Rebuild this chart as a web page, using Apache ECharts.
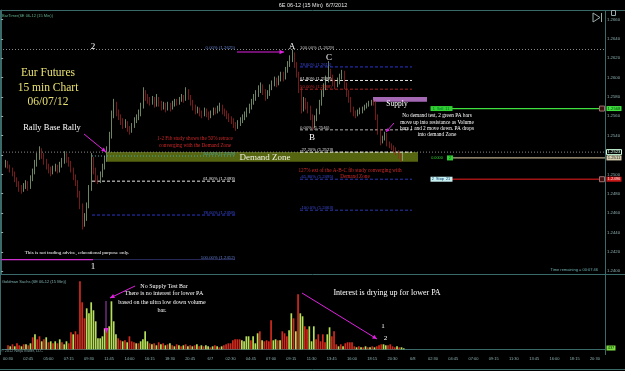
<!DOCTYPE html>
<html><head><meta charset="utf-8">
<script src="https://cdn.jsdelivr.net/npm/echarts@6/dist/echarts.min.js"></script>
<style>html,body{margin:0;padding:0;background:#000}#c{width:625px;height:371px}</style>
</head><body><div id="c"></div>
<script>
// ---------- DATA ----------
const tickLabels = ['00:30','02:45','05:00','07:15','09:30','11:45','14:00','16:15','18:30','20:45','6/7',
  '02:30','04:45','07:00','09:15','11:30','13:45','16:00','18:15','20:30','6/8',
  '02:30','04:45','07:00','09:15','11:30','13:45','16:00','18:15','20:30'];
const priceTicks = [1.2400,1.2420,1.2440,1.2460,1.2480,1.2500,1.2520,1.2540,1.2560,1.2580,1.2600,1.2620,1.2640,1.2660];
// 15-min bars: [open, close, low, high]
const ohlc = [
[1.2510,1.2512,1.2507,1.2515],[1.2512,1.2508,1.2506,1.2514],[1.2508,1.2505,1.2502,1.2510],[1.2505,1.2500,1.2498,1.2507],
[1.2500,1.2495,1.2492,1.2503],[1.2495,1.2490,1.2487,1.2497],[1.2490,1.2486,1.2482,1.2493],[1.2486,1.2484,1.2480,1.2489],
[1.2484,1.2488,1.2482,1.2491],[1.2488,1.2490,1.2485,1.2494],[1.2490,1.2487,1.2483,1.2493],[1.2487,1.2496,1.2485,1.2499],
[1.2496,1.2502,1.2493,1.2506],[1.2502,1.2512,1.2500,1.2515],[1.2512,1.2518,1.2508,1.2522],[1.2518,1.2524,1.2515,1.2529],
[1.2524,1.2520,1.2516,1.2527],[1.2520,1.2514,1.2510,1.2522],[1.2514,1.2508,1.2505,1.2516],[1.2508,1.2505,1.2501,1.2511],
[1.2505,1.2502,1.2498,1.2508],[1.2502,1.2506,1.2500,1.2509],[1.2506,1.2508,1.2503,1.2511],[1.2508,1.2504,1.2501,1.2510],
[1.2504,1.2510,1.2502,1.2513],[1.2510,1.2514,1.2507,1.2517],[1.2514,1.2519,1.2511,1.2524],[1.2519,1.2516,1.2512,1.2522],
[1.2516,1.2512,1.2508,1.2518],[1.2512,1.2505,1.2502,1.2514],[1.2505,1.2498,1.2494,1.2507],[1.2498,1.2492,1.2488,1.2500],
[1.2492,1.2480,1.2476,1.2494],[1.2480,1.2468,1.2464,1.2483],[1.2468,1.2450,1.2443,1.2470],[1.2450,1.2456,1.2446,1.2460],
[1.2456,1.2468,1.2452,1.2471],[1.2468,1.2486,1.2465,1.2489],[1.2486,1.2514,1.2483,1.2522],[1.2514,1.2504,1.2500,1.2518],
[1.2504,1.2496,1.2492,1.2507],[1.2496,1.2494,1.2490,1.2499],[1.2494,1.2500,1.2491,1.2503],[1.2500,1.2508,1.2497,1.2511],
[1.2508,1.2516,1.2505,1.2519],[1.2516,1.2526,1.2513,1.2529],[1.2526,1.2540,1.2523,1.2544],[1.2540,1.2562,1.2537,1.2566],
[1.2562,1.2572,1.2558,1.2578],[1.2572,1.2564,1.2560,1.2575],[1.2564,1.2560,1.2556,1.2567],[1.2560,1.2555,1.2551,1.2562],
[1.2555,1.2551,1.2547,1.2558],[1.2551,1.2553,1.2548,1.2557],[1.2553,1.2548,1.2544,1.2555],[1.2548,1.2545,1.2541,1.2550],
[1.2545,1.2550,1.2543,1.2553],[1.2550,1.2556,1.2548,1.2559],[1.2556,1.2559,1.2553,1.2562],[1.2559,1.2563,1.2556,1.2567],
[1.2563,1.2570,1.2560,1.2574],[1.2570,1.2583,1.2568,1.2590],[1.2583,1.2580,1.2576,1.2587],[1.2580,1.2577,1.2573,1.2583],
[1.2577,1.2575,1.2571,1.2580],[1.2575,1.2578,1.2572,1.2581],[1.2578,1.2572,1.2569,1.2580],[1.2572,1.2578,1.2570,1.2583],
[1.2578,1.2574,1.2570,1.2580],[1.2574,1.2570,1.2566,1.2576],[1.2570,1.2571,1.2567,1.2575],[1.2571,1.2568,1.2564,1.2574],
[1.2568,1.2572,1.2566,1.2575],[1.2572,1.2569,1.2565,1.2574],[1.2569,1.2573,1.2567,1.2576],[1.2573,1.2575,1.2570,1.2578],
[1.2575,1.2574,1.2571,1.2578],[1.2574,1.2577,1.2572,1.2580],[1.2577,1.2580,1.2575,1.2583],[1.2580,1.2578,1.2574,1.2582],
[1.2578,1.2586,1.2576,1.2590],[1.2586,1.2580,1.2577,1.2588],[1.2580,1.2575,1.2571,1.2582],[1.2575,1.2570,1.2566,1.2577],
[1.2570,1.2566,1.2562,1.2572],[1.2566,1.2567,1.2563,1.2570],[1.2567,1.2564,1.2560,1.2569],[1.2564,1.2562,1.2558,1.2566],
[1.2562,1.2566,1.2560,1.2569],[1.2566,1.2563,1.2559,1.2568],[1.2563,1.2560,1.2556,1.2565],[1.2560,1.2563,1.2558,1.2566],
[1.2563,1.2566,1.2561,1.2569],[1.2566,1.2565,1.2562,1.2569],[1.2565,1.2568,1.2563,1.2571],[1.2568,1.2570,1.2565,1.2574],
[1.2570,1.2566,1.2562,1.2572],[1.2566,1.2564,1.2560,1.2568],[1.2564,1.2561,1.2557,1.2566],[1.2561,1.2558,1.2554,1.2563],
[1.2558,1.2556,1.2552,1.2560],[1.2556,1.2552,1.2548,1.2558],[1.2552,1.2549,1.2545,1.2554],[1.2549,1.2553,1.2547,1.2556],
[1.2553,1.2556,1.2550,1.2559],[1.2556,1.2559,1.2553,1.2562],[1.2559,1.2562,1.2556,1.2565],[1.2562,1.2566,1.2559,1.2569],
[1.2566,1.2570,1.2563,1.2573],[1.2570,1.2575,1.2567,1.2578],[1.2575,1.2579,1.2572,1.2583],[1.2579,1.2584,1.2576,1.2587],
[1.2584,1.2588,1.2580,1.2592],[1.2588,1.2591,1.2584,1.2595],[1.2591,1.2586,1.2582,1.2593],[1.2586,1.2580,1.2576,1.2588],
[1.2580,1.2584,1.2578,1.2587],[1.2584,1.2590,1.2581,1.2593],[1.2590,1.2594,1.2587,1.2597],[1.2594,1.2597,1.2591,1.2601],
[1.2597,1.2594,1.2590,1.2600],[1.2594,1.2599,1.2592,1.2602],[1.2599,1.2603,1.2596,1.2606],[1.2603,1.2600,1.2596,1.2606],
[1.2600,1.2608,1.2598,1.2611],[1.2608,1.2614,1.2605,1.2617],[1.2614,1.2619,1.2611,1.2623],[1.2619,1.2624,1.2616,1.2629],
[1.2624,1.2614,1.2610,1.2626],[1.2614,1.2604,1.2600,1.2616],[1.2604,1.2588,1.2584,1.2606],[1.2588,1.2568,1.2563,1.2590],
[1.2568,1.2576,1.2565,1.2580],[1.2576,1.2572,1.2567,1.2579],[1.2572,1.2568,1.2563,1.2575],[1.2568,1.2560,1.2556,1.2571],
[1.2560,1.2551,1.2546,1.2562],[1.2551,1.2558,1.2548,1.2561],[1.2558,1.2565,1.2555,1.2568],[1.2565,1.2574,1.2562,1.2577],
[1.2574,1.2584,1.2571,1.2587],[1.2584,1.2590,1.2580,1.2594],[1.2590,1.2598,1.2587,1.2602],[1.2598,1.2606,1.2595,1.2617],
[1.2606,1.2600,1.2596,1.2609],[1.2600,1.2595,1.2591,1.2603],[1.2595,1.2592,1.2588,1.2598],[1.2592,1.2596,1.2590,1.2600],
[1.2596,1.2601,1.2593,1.2604],[1.2601,1.2605,1.2598,1.2608],[1.2605,1.2592,1.2588,1.2607],[1.2592,1.2584,1.2580,1.2595],
[1.2584,1.2578,1.2574,1.2587],[1.2578,1.2568,1.2564,1.2580],[1.2568,1.2564,1.2560,1.2570],[1.2564,1.2562,1.2558,1.2566],
[1.2562,1.2565,1.2560,1.2567],[1.2565,1.2566,1.2562,1.2569],[1.2566,1.2568,1.2563,1.2570],[1.2568,1.2570,1.2566,1.2572],
[1.2570,1.2572,1.2568,1.2574],[1.2572,1.2574,1.2570,1.2576],[1.2574,1.2575,1.2571,1.2577],[1.2575,1.2574,1.2571,1.2577],
[1.2574,1.2560,1.2556,1.2576],[1.2560,1.2545,1.2541,1.2562],[1.2545,1.2534,1.2530,1.2547],[1.2534,1.2538,1.2532,1.2540],
[1.2538,1.2541,1.2535,1.2544],[1.2541,1.2532,1.2529,1.2543],[1.2532,1.2530,1.2527,1.2534],[1.2530,1.2528,1.2525,1.2532],
[1.2528,1.2526,1.2523,1.2530],[1.2526,1.2523,1.2520,1.2528],[1.2523,1.2520,1.2516,1.2525],[1.2520,1.2516,1.2513,1.2522],
[1.2516,1.2521,1.2514,1.2523]
];
// volume, hundreds of contracts
const volume = [4,3,5,3,6,4,3,5, 5,4,6,
 12,15,10,13,8,10,12,7,8,6,8,6,10,7,5,8,6,17,15,18,15,68,47,31,
 41,36,47,39,28,11,11,13,21, 18, 23,48,28,15,
 11,9,8,9,7,13,8,7,6,6,8,10,18,8,6,
 5,6,4,7,5,6,4,5,6,
 4,3,5,4,3,4,5,3,4,3,4,5,3,4,3,4,
 3,2,3,4,3,2,3,4,5,
 6,6,9,10,10,10,
 9,8,13,13,9,13,6,16,18,9,8,9,8,29,9,10,9,9,18,16,13,19,36,31,18,55,36,33,23,20,23,8,23,10,15,8,15,7,15,22,13,18,5,3,5,3,6,7,7,7,3,
 2,3,2,2,3,2,2,3,2,3,
 4,5,5,4,4,5,3,2,3,2,2,1];
// u = up-volume (green), d = down-volume (red), one letter per bar
const volDir = ("dududdud udu duddudududududuudduddddd uuuuuuuuu d uuuu ddududdduduuuud ududududu " +
 "dudududududududu ududududd dddddd " +
 "uuuu d uuu d u dddd uu d u ddd uu d u d uu dd uuu ddddd uu ddd u d u ddddd " +
 "ududududud dduudddduduu").replace(/\s+/g, '');
const fib12Names = ['0.00%','50.00%','61.80%','78.60%','100.00%'];
const fib12Prices = [1.2625,1.2519,1.2493,1.2458,1.2412];
const fibABNames = ['100.00%','78.60%','61.80%','50.00%','0.00%','-27.20%','-61.80%','-100.0%'];
const fibABPrices = [1.2629,1.2611,1.2597,1.2588,1.2546,1.2523,1.2495,1.2463];
const demandZone = [1.2513,1.2523];
const supplyZone = [1.2575,1.2580];
const levelTwo = 1.2629;
const lastPrice = 1.2523;
const orderNames = ['1  Sell  11','','2  Stop  21'];
const orderPrices = [1.2568,1.2517,1.2495];
const orderLabels = ['1.2568','1.2511','1.2496'];
const curVolume = '437';

// ---------- CHART ----------
const N = 268, OFF = 2;
const PMIN = 1.23971, PMAX = 1.26698;
const GT = 10, GH = 264;
const yOf = p => GT + (PMAX - p) / (PMAX - PMIN) * GH;
const ix = px => px / (605 / N) - 0.5;
const cats = Array.from({length: N}, (_, i) => String(i));
const UP = '#9dbf8c', DN = '#a82424';
const candleData = cats.map((_, i) => { const k = i - OFF; return (k >= 0 && k < ohlc.length) ? ohlc[k] : '-'; });
const volData = cats.map((_, i) => {
  const k = i - OFF;
  if (k < 0 || k >= volume.length) return '-';
  return {value: volume[k], itemStyle: {color: volDir[k] === 'u' ? '#b6e05a' : '#d22a1c'}};
});
const lblInt = idx => idx >= 2 && (idx - 2) % 9 === 0;
const AX = '#3a6a6a';
const SERIF = 'Liberation Serif', SANS = 'Liberation Sans';

function hline(p, x0, x1, color, dash, w) {
  return {type: 'line', xAxisIndex: 2, yAxisIndex: 0, data: [[ix(x0), p], [ix(x1), p]], symbol: 'none',
    silent: true, animation: false, z: 4, lineStyle: {color: color, type: dash || 'solid', width: w || 1}};
}
function zone(x0, x1, p0, p1, color) {
  return {type: 'line', xAxisIndex: 2, yAxisIndex: 0, data: [[ix(x0), p0]], symbol: 'none', silent: true, animation: false,
    z: 1, lineStyle: {opacity: 0},
    markArea: {silent: true, itemStyle: {color: color}, data: [[{coord: [ix(x0), p1]}, {coord: [ix(x1), p0]}]]}};
}
const dot = [1, 2], dash = [3, 2];
const series = [
  zone(107, 418, demandZone[0], demandZone[1], '#56650f'),
  zone(373, 427, supplyZone[0], supplyZone[1], '#a468b4'),
  hline(levelTwo, 0, 605, '#8a8a8a', dot),
  hline(lastPrice, 0, 605, '#8a8a8a', dot),
  hline(fib12Prices[1], 92, 235, '#4aa8a8', dot),
  hline(fib12Prices[2], 92, 235, '#e8e8e8', dash),
  hline(fib12Prices[3], 92, 235, '#2a36c8', dash),
  hline(fib12Prices[4], 0, 93, '#d030d0', 'solid', 1.2),
  hline(fib12Prices[4], 93, 235, '#2a2a5a', 'solid'),
  hline(fibABPrices[1], 300, 412, '#2a36d0', dash),
  hline(fibABPrices[2], 300, 412, '#e0e0e0', dash),
  hline(fibABPrices[3], 300, 412, '#a82020', dash),
  hline(fibABPrices[4], 300, 412, '#b0b0b0', dash),
  hline(fibABPrices[5], 300, 412, '#f0f0f0', dash),
  hline(fibABPrices[6], 300, 412, '#2a36b0', dash),
  hline(fibABPrices[7], 300, 412, '#2a36b0', dash),
  hline(orderPrices[0], 452, 600, '#3ee03e', 'solid', 1.3),
  hline(orderPrices[1], 453, 605, '#b8aa88', 'solid', 1.3),
  hline(orderPrices[2], 452, 600, '#a01414', 'solid', 1.6),
  {type: 'candlestick', xAxisIndex: 0, yAxisIndex: 0, data: candleData, barWidth: 1.1, z: 5, animation: false,
    itemStyle: {color: UP, color0: DN, borderColor: UP, borderColor0: DN, borderWidth: 0.7}},
  {type: 'bar', xAxisIndex: 1, yAxisIndex: 1, data: volData, barWidth: 1.7, animation: false}
];

// ---------- GRAPHIC annotations ----------
const G = [];
const T = (x, y, text, o) => G.push({type: 'text', x: x, y: y, silent: true, z: 100, style: Object.assign({
  text: text, fill: '#fff', font: '6px ' + SERIF, textAlign: 'center', textVerticalAlign: 'middle'}, o || {})});
const L = (x1, y1, x2, y2, c, w, d) => G.push({type: 'line', silent: true, z: 90,
  shape: {x1: x1, y1: y1, x2: x2, y2: y2}, style: {stroke: c, lineWidth: w || 1, lineDash: d || null}});
const R = (x, y, w, h, fill, stroke) => G.push({type: 'rect', silent: true, z: 95, shape: {x: x, y: y, width: w, height: h},
  style: {fill: fill || 'none', stroke: stroke || null, lineWidth: 1}});
function arrow(x1, y1, x2, y2, c, hs) {
  L(x1, y1, x2, y2, c, 1);
  const a = Math.atan2(y2 - y1, x2 - x1), s = hs || 5;
  G.push({type: 'polygon', silent: true, z: 91, shape: {points: [[x2, y2],
    [x2 - s * Math.cos(a - 0.45), y2 - s * Math.sin(a - 0.45)], [x2 - s * Math.cos(a + 0.45), y2 - s * Math.sin(a + 0.45)]]},
    style: {fill: c}});
}
// frame
L(0, 10.5, 625, 10.5, AX); L(0.5, 10, 0.5, 355, AX); L(0, 274.5, 625, 274.5, AX);
L(605.5, 10, 605.5, 355, AX); L(0, 369.5, 625, 369.5, AX);
T(313, 5.5, '6E 06-12 (15 Min)  6/7/2012', {font: '5.5px ' + SANS, fill: '#e8e8e8'});
T(2, 16, 'BarTimer(6E 06-12 (15 Min))', {font: '4px ' + SANS, fill: '#5fae8a', textAlign: 'left'});
G.push({type: 'polygon', silent: true, z: 95, shape: {points: [[593, 13], [600, 17.5], [593, 22]]}, style: {fill: 'none', stroke: '#9aa', lineWidth: 1}});
L(601.5, 13, 601.5, 22, '#9aa');
R(611.5, 10.5, 4, 5, 'none', '#9aa');
// big labels
T(48, 73, 'Eur Futures', {font: '11.5px ' + SERIF, fill: '#e8e070'});
T(48, 88, '15 min Chart', {font: '11.5px ' + SERIF, fill: '#e8e070'});
T(48, 102, '06/07/12', {font: '11.5px ' + SERIF, fill: '#e8e070'});
T(52, 128, 'Rally Base Rally', {font: '8.5px ' + SERIF});
arrow(84, 134, 106, 152, '#e020e0', 5);
T(93, 46.5, '2', {font: '9px ' + SERIF});
T(292, 47, 'A', {font: '9px ' + SERIF});
T(312, 138, 'B', {font: '9px ' + SERIF});
T(329, 58, 'C', {font: '9px ' + SERIF});
T(93, 267, '1', {font: '9px ' + SERIF});
arrow(237, 52, 284, 52, '#e020e0', 5);
T(195, 139, '1-2 Fib study shows the 50% retrace', {font: '5.2px ' + SERIF, fill: '#d02828'});
T(195, 145.3, 'converging with the Demand Zone', {font: '5.2px ' + SERIF, fill: '#d02828'});
T(265, 157.5, 'Demand Zone', {font: '9px ' + SERIF, fill: '#f0f0e0'});
T(350, 170.7, '127% ext of the A-B-C fib study converging with', {font: '5.2px ' + SERIF, fill: '#d02828'});
T(355, 176.7, 'Demand Zone', {font: '5.2px ' + SERIF, fill: '#d02828'});
T(397, 104.2, 'Supply', {font: '7.5px ' + SERIF});
T(437, 115.7, 'No demand test, 2 green PA bars', {font: '5.3px ' + SERIF});
T(437, 122.2, 'move up into resistance as Volume', {font: '5.3px ' + SERIF});
T(437, 128.7, 'bars 1 and 2 move down. PA drops', {font: '5.3px ' + SERIF});
T(437, 134.7, 'into demand Zone', {font: '5.3px ' + SERIF});
arrow(394, 123, 386, 132, '#e020e0', 4);
T(77, 252.3, 'This is not trading advice, educational purpose only.', {font: '5px ' + SERIF});
// fib labels
const FL = '4.3px ' + SANS;
const c12 = ['#5f7fd0', '#4aa8a8', '#e0e0e0', '#3a4ad8', '#5f7fd0'];
fib12Names.forEach((n, i) => T(235, (i === 0 ? yOf(levelTwo) : yOf(fib12Prices[i])) - 2,
  n + ' (' + fib12Prices[i].toFixed(4) + ')', {font: FL, fill: c12[i], textAlign: 'right'}));
const cAB = ['#c0c0c0', '#3a4ad8', '#e0e0e0', '#c02828', '#d0d0d0', '#e0e0e0', '#3a4ad8', '#3a4ad8'];
fibABNames.forEach((n, i) => T(300, yOf(fibABPrices[i]) - 2, n + ' (' + fibABPrices[i].toFixed(4) + ')',
  {font: FL, fill: cAB[i], textAlign: 'left'}));
// order lines
const oy = orderPrices.map(yOf);
R(430.5, oy[0] - 2.5, 22, 5, '#30d030'); T(441, oy[0], orderNames[0], {font: '3.8px ' + SANS, fill: '#063'});
R(430.5, oy[2] - 2.5, 22, 5, '#c8f0f0'); T(441, oy[2], orderNames[2], {font: '3.8px ' + SANS, fill: '#036'});
T(437, oy[1], '0.0000', {font: '3.8px ' + SANS, fill: '#30d030'});
R(447, oy[1] - 2.5, 6, 5, '#30d030'); T(450, oy[1], '2', {font: '3.8px ' + SANS, fill: '#063'});
R(599.5, oy[0] - 2.5, 5, 5, '#401010', '#a07070'); R(599.5, oy[2] - 2.5, 5, 5, '#401010', '#a07070');
R(606.5, oy[0] - 2.5, 15, 5, '#40e040'); T(614, oy[0], orderLabels[0], {font: '4.2px ' + SANS, fill: '#040'});
R(606.5, oy[1] - 2.5, 15, 5, '#d8d0b0'); T(614, oy[1], orderLabels[1], {font: '4.2px ' + SANS, fill: '#222'});
R(606.5, oy[2] - 2.5, 15, 5, '#c81818'); T(614, oy[2], orderLabels[2], {font: '4.2px ' + SANS, fill: '#fdd'});
R(606.5, yOf(lastPrice) - 2.5, 15, 5, '#000', '#cfd'); T(614, yOf(lastPrice), lastPrice.toFixed(4), {font: '4.2px ' + SANS, fill: '#dfe'});
T(598, 269.5, 'Time remaining = 00:07:46', {font: '4px ' + SANS, fill: '#6fb0b0', textAlign: 'right'});
// volume panel
T(2, 281.7, 'Goldman Sachs (6E 06-12 (15 Min))', {font: '4px ' + SANS, fill: '#7fb0b0', textAlign: 'left'});
T(1, 351, '\u00a9 2012 NinjaTrader, LLC', {font: '3.8px ' + SANS, fill: '#7fa0a0', textAlign: 'left'});
T(164, 286, 'No Supply Test Bar', {font: '6px ' + SERIF});
T(164, 293.7, 'There is no interest for lower PA', {font: '6px ' + SERIF});
T(162, 302.3, 'based on the ultra low down volume', {font: '6px ' + SERIF});
T(162, 310, 'bar.', {font: '6px ' + SERIF});
arrow(135, 286, 110, 298, '#e020e0', 5);
L(106, 301, 106, 333, '#8a3a9a', 1.2);
G.push({type: 'polygon', silent: true, z: 92, shape: {points: [[104, 328], [109, 328], [106.5, 333]]}, style: {fill: '#e020e0'}});
T(387, 293.3, 'Interest is drying up for lower PA', {font: '8px ' + SERIF});
arrow(302, 293, 377, 339, '#e020e0', 5);
T(383, 325.7, '1', {font: '7px ' + SERIF});
T(385.5, 337.7, '2', {font: '7px ' + SERIF});
R(606.5, 345.5, 9, 5, '#7ce040'); T(611, 348, curVolume, {font: '4px ' + SANS, fill: '#030'});

const chart = echarts.init(document.getElementById('c'));
chart.setOption({
  backgroundColor: '#000',
  animation: false,
  grid: [{left: 0, right: 20, top: GT, height: GH}, {left: 0, right: 20, top: 275.3, height: 74}],
  xAxis: [
    {type: 'category', gridIndex: 0, data: cats, show: false},
    {type: 'category', gridIndex: 1, data: cats, offset: 5.7,
      axisLine: {lineStyle: {color: AX}}, axisTick: {interval: lblInt, alignWithLabel: true, length: 2, lineStyle: {color: '#7aa'}},
      axisLabel: {interval: lblInt, margin: 2, fontSize: 4, fontFamily: SANS, color: '#8fb0b0',
        formatter: v => { const k = (Number(v) - 2) / 9; return tickLabels[k] || ''; }}},
    {type: 'value', gridIndex: 0, min: -0.5, max: N - 0.5, show: false}
  ],
  yAxis: [
    {type: 'value', gridIndex: 0, position: 'right', min: PMIN, max: PMAX, scale: true, splitLine: {show: false},
      axisLine: {show: true, lineStyle: {color: AX}},
      axisTick: {show: true, length: 2, customValues: priceTicks, lineStyle: {color: '#8fb0b0'}},
      axisLabel: {customValues: priceTicks, margin: 2, fontSize: 4.3, fontFamily: SANS, color: '#8fb0b0', formatter: v => v.toFixed(4)}},
    {type: 'value', gridIndex: 1, min: 0, max: 74, show: false}
  ],
  series: series,
  graphic: {elements: G}
});
</script></body></html>
